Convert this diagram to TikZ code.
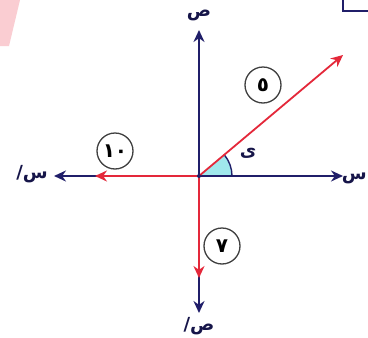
\documentclass[tikz,border=0pt]{standalone}
\usepackage{fontspec}
\usetikzlibrary{arrows.meta}
\newfontfamily\arabicfont[Script=Arabic]{DejaVu Sans}
\TeXXeTstate=1
\definecolor{axisblue}{RGB}{32,30,105}
\definecolor{vecred}{RGB}{228,40,58}
\definecolor{anglefill}{RGB}{160,232,236}
\definecolor{pinkmark}{RGB}{250,205,210}
\tikzset{
  axisline/.style={draw=axisblue,line width=2.2pt,-{Stealth[length=12pt,width=11pt]}},
  vecline/.style={draw=vecred,line width=1.8pt,-{Stealth[length=12pt,width=11pt]}},
  circlab/.style={circle,draw=black!75,line width=1.3pt,minimum size=36pt,inner sep=0pt,font=\arabicfont\bfseries\fontsize{20}{20}\selectfont},
  axlab/.style={font=\arabicfont\bfseries\fontsize{18}{18}\selectfont,text=axisblue!70!black,inner sep=0pt}
}
\begin{document}
\begin{tikzpicture}[x=1pt,y=-1pt]
\useasboundingbox (0,0) rectangle (368,338);
\fill[white] (0,0) rectangle (368,338);
% decorative fragments at the edges
\fill[pinkmark] (0,0) -- (20,0) -- (9,46) -- (0,46) -- cycle;
\draw[axisblue,line width=1.8pt] (343,0) -- (343,11) -- (368,11);
% coordinates
\coordinate (O) at (199,176);
\coordinate (top) at (199,30);
\coordinate (bot) at (199,313);
\coordinate (lft) at (54,176);
\coordinate (rgt) at (343,176);
\coordinate (vA) at (343,55);
\coordinate (vL) at (95,176);
\coordinate (vD) at (199,278);
% angle sector
\fill[anglefill] (O) -- ++(33,0) arc[start angle=0,end angle=-40,radius=33] -- cycle;
\draw[axisblue,line width=1.4pt] ([shift={(33,0)}]O) arc[start angle=0,end angle=-40,radius=33];
% axes
\draw[axisline] (O) -- (top);
\draw[axisline] (O) -- (bot);
\draw[axisline] (O) -- (lft);
\draw[axisline] (O) -- (rgt);
% vectors
\draw[vecline] (O) -- (vA);
\draw[vecline] (O) -- (vL);
\draw[vecline] (O) -- (vD);
\fill[axisblue] (O) circle (2pt);
% circled magnitudes
\node[circlab] (m5) at (263,85) {٥};
\node[circlab] (m10) at (115,151) {\beginR ١٠\endR};
\node[circlab] (m7) at (222,246) {٧};
% angle label
\node[axlab] (ang) at (248,153) {ى};
% axis labels
\node[axlab] (ly) at (199,15) {ص};
\node[axlab] (lyp) at (199,326) {\beginR ص/\endR};
\node[axlab,anchor=east] (lx) at (367,178) {س};
\node[axlab] (lxp) at (32,174) {\beginR س/\endR};
\end{tikzpicture}
\end{document}
